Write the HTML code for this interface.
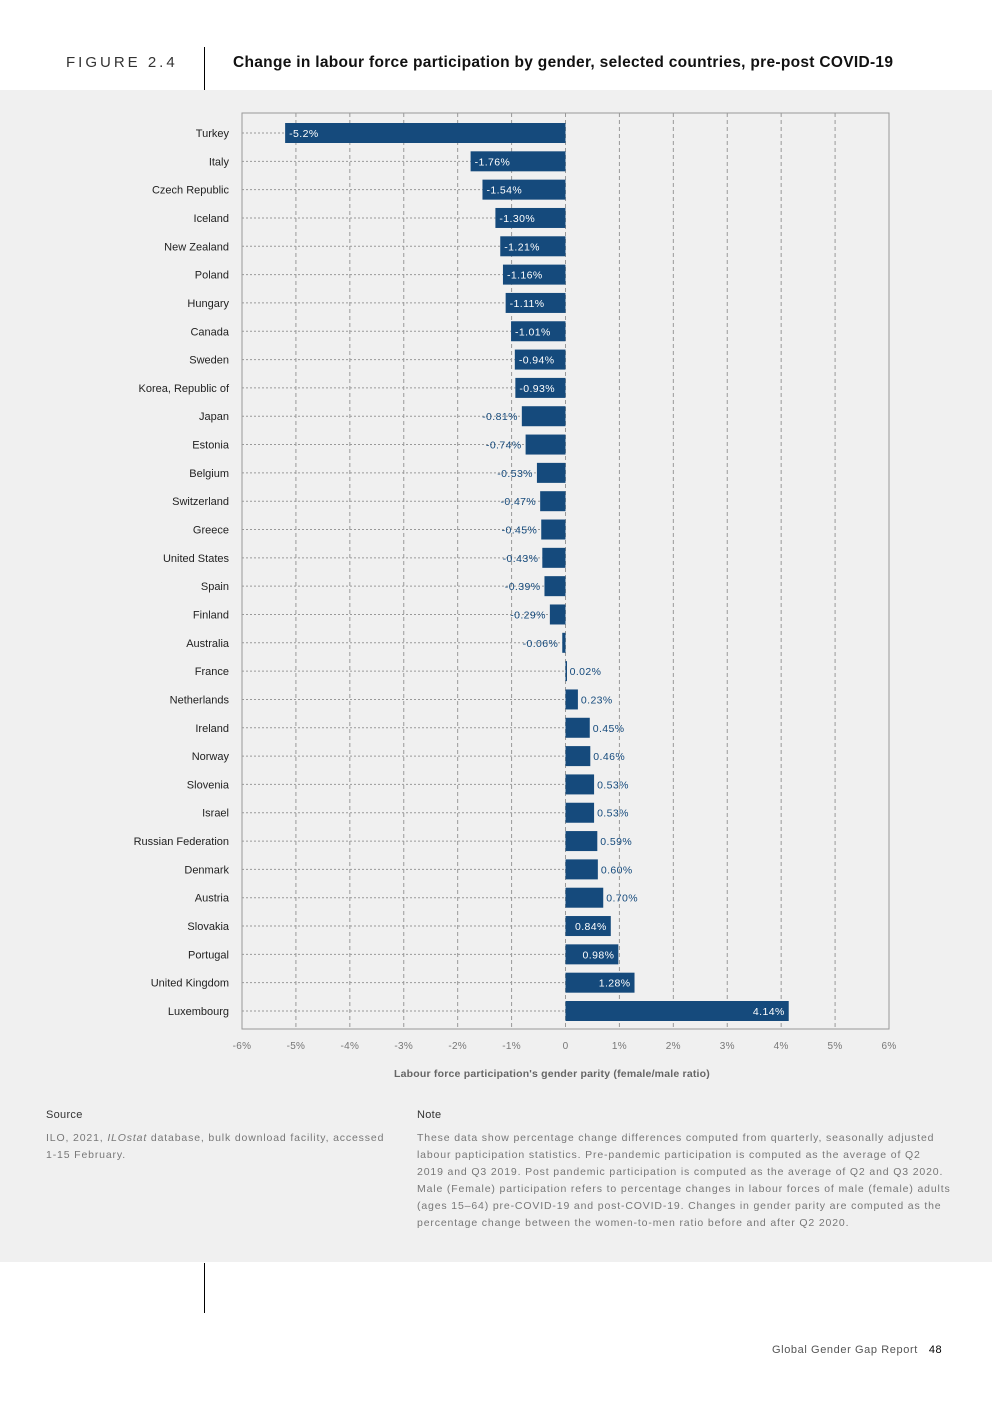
<!DOCTYPE html>
<html><head><meta charset="utf-8">
<style>
body{margin:0;width:992px;height:1403px;background:#fff;font-family:"Liberation Sans",sans-serif;position:relative;overflow:hidden}
.abs{position:absolute}
</style></head><body>
<div class="abs" style="left:66px;top:54px;font-size:15px;letter-spacing:3px;color:#333">FIGURE 2.4</div>
<div class="abs" style="left:204px;top:47px;width:1px;height:43px;background:#000"></div>
<div class="abs" style="left:233px;top:54px;font-size:15.5px;letter-spacing:0.3px;font-weight:bold;color:#111;white-space:nowrap">Change in labour force participation by gender, selected countries, pre-post COVID-19</div>
<div class="abs" style="left:0;top:90px;width:992px;height:1172px;background:#f0f0f0"></div>
<svg class="abs" style="left:0;top:0" width="992" height="1100" id="chart"></svg>
<div class="abs" style="left:46px;top:1109px;font-size:11px;letter-spacing:0.3px;color:#333">Source</div>
<div class="abs" style="left:46px;top:1130px;white-space:nowrap;font-size:10.5px;letter-spacing:0.85px;line-height:17px;color:#777">ILO, 2021, <i>ILOstat</i> database, bulk download facility, accessed<br>1-15 February.</div>
<div class="abs" style="left:417px;top:1109px;font-size:11px;letter-spacing:0.3px;color:#333">Note</div>
<div class="abs" style="left:417px;top:1130px;white-space:nowrap;font-size:10.5px;letter-spacing:0.85px;line-height:17px;color:#777">These data show percentage change differences computed from quarterly, seasonally adjusted<br>labour papticipation statistics. Pre-pandemic participation is computed as the average of Q2<br>2019 and Q3 2019. Post pandemic participation is computed as the average of Q2 and Q3 2020.<br>Male (Female) participation refers to percentage changes in labour forces of male (female) adults<br>(ages 15–64) pre-COVID-19 and post-COVID-19. Changes in gender parity are computed as the<br>percentage change between the women-to-men ratio before and after Q2 2020.</div>
<div class="abs" style="left:204px;top:1263px;width:1px;height:50px;background:#000"></div>
<div class="abs" style="left:772px;top:1344px;font-size:11px;letter-spacing:0.6px;color:#555;white-space:nowrap">Global Gender Gap Report&nbsp;&nbsp; <span style="color:#000">48</span></div>
<script>
const countries=["Turkey","Italy","Czech Republic","Iceland","New Zealand","Poland","Hungary","Canada","Sweden","Korea, Republic of","Japan","Estonia","Belgium","Switzerland","Greece","United States","Spain","Finland","Australia","France","Netherlands","Ireland","Norway","Slovenia","Israel","Russian Federation","Denmark","Austria","Slovakia","Portugal","United Kingdom","Luxembourg"];
const values=[-5.2,-1.76,-1.54,-1.30,-1.21,-1.16,-1.11,-1.01,-0.94,-0.93,-0.81,-0.74,-0.53,-0.47,-0.45,-0.43,-0.39,-0.29,-0.06,0.02,0.23,0.45,0.46,0.53,0.53,0.59,0.60,0.70,0.84,0.98,1.28,4.14];
const labels=["-5.2%","-1.76%","-1.54%","-1.30%","-1.21%","-1.16%","-1.11%","-1.01%","-0.94%","-0.93%","-0.81%","-0.74%","-0.53%","-0.47%","-0.45%","-0.43%","-0.39%","-0.29%","-0.06%","0.02%","0.23%","0.45%","0.46%","0.53%","0.53%","0.59%","0.60%","0.70%","0.84%","0.98%","1.28%","4.14%"];
const ticks=[-6,-5,-4,-3,-2,-1,0,1,2,3,4,5,6];
const tickLabels=["-6%","-5%","-4%","-3%","-2%","-1%","0","1%","2%","3%","4%","5%","6%"];
const NS="http://www.w3.org/2000/svg";
const svg=document.getElementById('chart');
const L=242,R=889,T=113,B=1029;
const x=v=>L+(v+6)/12*(R-L);
const y=i=>133+i*(1011-133)/(countries.length-1);
function mk(t,a){const e=document.createElementNS(NS,t);for(const k in a)e.setAttribute(k,a[k]);svg.appendChild(e);return e;}
let box=mk('rect',{x:L,y:T,width:R-L,height:B-T,fill:'none',stroke:'#999','stroke-width':1});


ticks.forEach((t,i)=>{
  if(t>-6&&t<6){const g=mk('line',{x1:x(t),x2:x(t),y1:T,y2:B,stroke:'#999','stroke-dasharray':'4,3'});
  
  }
  const tl=mk('text',{x:x(t),y:1049,'text-anchor':'middle','font-size':10,'letter-spacing':0.3,fill:'#777'});tl.textContent=tickLabels[i];
  
  
});
const at=mk('text',{x:552,y:1077,'text-anchor':'middle','font-size':10.5,'font-weight':'bold','letter-spacing':0.2,fill:'#666'});
at.textContent="Labour force participation's gender parity (female/male ratio)";


countries.forEach((c,i)=>{
  const v=values[i],yc=y(i),x0=x(0),xv=x(v);
  const lead=mk('line',{x1:L,x2:Math.min(x0,xv),y1:yc,y2:yc,stroke:'#999','stroke-dasharray':'2,2'});
  
  
  const cl=mk('text',{x:229,y:yc+4,'text-anchor':'end','font-size':11,fill:'#222'});cl.textContent=c;
  
  
  const b=mk('rect',{x:Math.min(x0,xv),y:yc-10,width:Math.max(Math.abs(xv-x0),1.5),height:20,fill:'#154a7c'});
  
  
  let a={y:yc+4,'font-size':10.5,'letter-spacing':0.4};
  const inside=v<=-0.9||v>=0.8;
  if(v<0){ if(inside){a.x=xv+4;a['text-anchor']='start';a.fill='#fff';} else {a.x=xv-4;a['text-anchor']='end';a.fill='#154a7c';} }
  else { if(inside){a.x=xv-4;a['text-anchor']='end';a.fill='#fff';} else {a.x=xv+3;a['text-anchor']='start';a.fill='#154a7c';} }
  const vl=mk('text',a);vl.textContent=labels[i];
  
  
});
</script>
</body></html>
